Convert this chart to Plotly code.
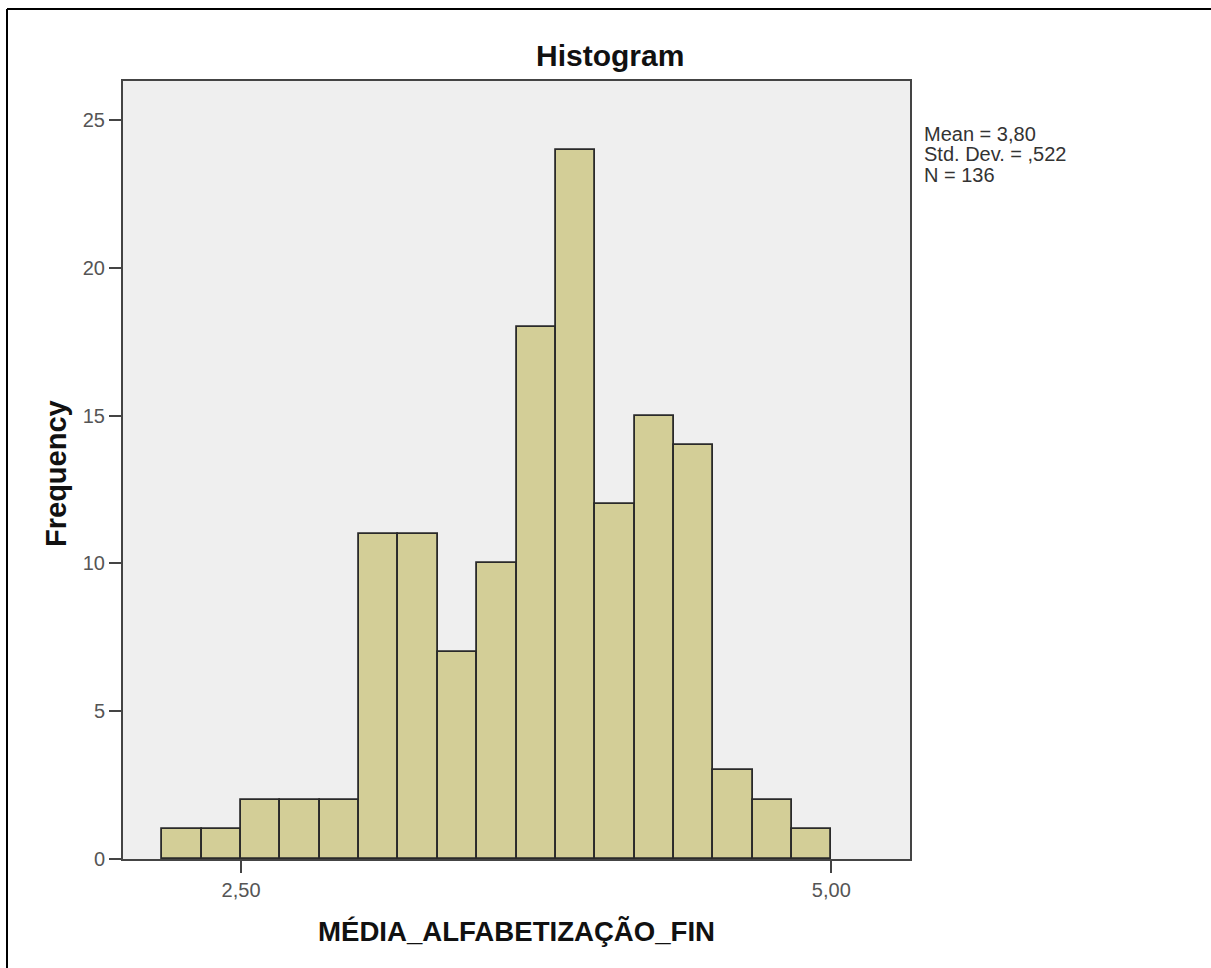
import plotly.graph_objects as go

# ---- data ----
frequencies = [1, 1, 2, 2, 2, 11, 11, 7, 10, 18, 24, 12, 15, 14, 3, 2, 1]
first_bin_edge = 13 / 6
bin_width = 1 / 6
x_tick_values = [2.5, 5.0]
x_tick_labels = ["2,50", "5,00"]
y_tick_values = [0, 5, 10, 15, 20, 25]
stats_lines = ["Mean = 3,80", "Std. Dev. = ,522", "N = 136"]
chart_title = "Histogram"
x_title = "MÉDIA_ALFABETIZAÇÃO_FIN"
y_title = "Frequency"

bin_centers = [first_bin_edge + bin_width * (i + 0.5) for i in range(len(frequencies))]

W, H = 1211, 968
L, R, T, B = 123, 301, 81, 109
FONT = "Liberation Sans, Arial, sans-serif"

fig = go.Figure()
fig.add_trace(go.Bar(
    x=bin_centers, y=frequencies, width=bin_width,
    marker=dict(color="#D3CE97", line=dict(color="#2a2a2a", width=1.8)),
    hoverinfo="x+y", showlegend=False,
))

axis_common = dict(showgrid=False, zeroline=False, showline=True, linecolor="#444444",
                   linewidth=2, mirror=True, ticks="outside", tickwidth=2,
                   tickcolor="#444444", tickfont=dict(family=FONT, size=20, color="#555555"))

fig.update_layout(
    width=W, height=H, autosize=False,
    margin=dict(l=L, r=R, t=T, b=B, pad=0),
    paper_bgcolor="white", plot_bgcolor="#EFEFEF",
    bargap=0,
    xaxis=dict(range=[2.0, 5.0 + 1 / 3], tickvals=x_tick_values, ticktext=x_tick_labels,
               ticklen=12, **axis_common),
    yaxis=dict(range=[0, 26.32], tickvals=y_tick_values, ticklen=12, **axis_common),
)

plot_w = W - L - R
plot_h = H - T - B

def px_x(p):
    return (p - L) / plot_w

def px_y(p):
    return (H - B - p) / plot_h

annotations = [
    dict(text=f"<b>{chart_title}</b>", x=px_x(610), y=px_y(56), xref="paper", yref="paper",
         showarrow=False, xanchor="center", yanchor="middle",
         font=dict(family=FONT, size=30, color="#111111")),
    dict(text=f"<b>{x_title}</b>", x=px_x(516), y=px_y(931), xref="paper", yref="paper",
         showarrow=False, xanchor="center", yanchor="middle",
         font=dict(family=FONT, size=27.6, color="#111111")),
    dict(text=f"<b>{y_title}</b>", x=px_x(56), y=px_y(474), xref="paper", yref="paper",
         showarrow=False, xanchor="center", yanchor="middle", textangle=-90,
         font=dict(family=FONT, size=29, color="#111111")),
]
for i, line in enumerate(stats_lines):
    annotations.append(dict(text=line, x=px_x(922), y=px_y(134 + 20.5 * i), xref="paper",
                            yref="paper", showarrow=False, xanchor="left", yanchor="middle",
                            font=dict(family=FONT, size=20, color="#333333")))
fig.update_layout(annotations=annotations)

# outer figure frame (only left and top edges are visible in the crop)
frame_line = dict(color="#000000", width=2)
fig.add_shape(type="line", xref="paper", yref="paper",
              x0=px_x(7), y0=px_y(H + 10), x1=px_x(7), y1=px_y(9),
              line=frame_line, layer="above")
fig.add_shape(type="line", xref="paper", yref="paper",
              x0=px_x(7), y0=px_y(9), x1=px_x(W + 10), y1=px_y(9),
              line=frame_line, layer="above")

fig.write_html("out.html", config={"displayModeBar": False},
               post_script="document.body.style.margin='0';document.body.style.overflow='hidden';")
